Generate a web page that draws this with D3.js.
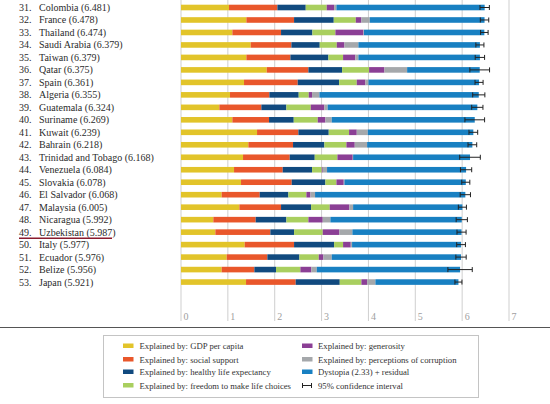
<!DOCTYPE html>
<html>
<head>
<meta charset="utf-8">
<script src="https://cdn.jsdelivr.net/npm/d3@7"></script>
<style>
  html, body { margin: 0; padding: 0; background: #fff; }
  svg { display: block; }
  text { font-family: "Liberation Serif", "DejaVu Serif", serif; }
</style>
</head>
<body>
<svg id="chart" width="550" height="404"></svg>
<script>
const ranks = [31,32,33,34,35,36,37,38,39,40,41,42,43,44,45,46,47,48,49,50,51,52,53];
const countries = ["Colombia","France","Thailand","Saudi Arabia","Taiwan","Qatar","Spain","Algeria","Guatemala","Suriname","Kuwait","Bahrain","Trinidad and Tobago","Venezuela","Slovakia","El Salvador","Malaysia","Nicaragua","Uzbekistan","Italy","Ecuador","Belize","Japan"];
const scores = [6.481,6.478,6.474,6.379,6.379,6.375,6.361,6.355,6.324,6.269,6.239,6.218,6.168,6.084,6.078,6.068,6.005,5.992,5.987,5.977,5.976,5.956,5.921];
const gdp        = [1.025,1.395,1.096,1.488,1.395,1.829,1.345,1.046,0.819,1.096,1.623,1.438,1.324,1.132,1.281,0.868,1.246,0.690,0.733,1.359,0.975,0.868,1.388];
const social     = [1.032,1.018,1.039,0.868,0.940,0.890,1.146,0.840,0.896,0.783,0.882,0.953,0.996,1.039,1.082,0.812,0.889,0.904,1.174,1.054,0.868,0.698,1.060];
const health     = [0.605,0.847,0.669,0.605,0.811,0.719,0.883,0.626,0.534,0.527,0.648,0.669,0.534,0.626,0.719,0.612,0.641,0.655,0.506,0.854,0.684,0.462,0.940];
const freedom    = [0.448,0.470,0.491,0.363,0.313,0.576,0.377,0.214,0.520,0.512,0.434,0.470,0.484,0.207,0.235,0.384,0.398,0.470,0.612,0.192,0.413,0.520,0.462];
const generosity = [0.157,0.120,0.600,0.164,0.263,0.328,0.185,0.071,0.291,0.164,0.164,0.178,0.327,0.021,0.156,0.086,0.420,0.306,0.356,0.164,0.099,0.235,0.122];
const corruption = [0.050,0.180,0.010,0.298,0.064,0.484,0.064,0.157,0.070,0.135,0.235,0.264,0.008,0.092,0.015,0.099,0.079,0.164,0.277,0.028,0.178,0.114,0.177];
const dystopia   = [3.164,2.448,2.569,2.593,2.593,1.549,2.361,3.401,3.194,3.052,2.253,2.246,2.495,2.967,2.590,3.207,2.332,2.803,2.329,2.326,2.759,3.059,1.772];
const ciHalf     = [0.10,0.09,0.08,0.086,0.10,0.21,0.086,0.13,0.12,0.21,0.093,0.093,0.22,0.12,0.086,0.11,0.086,0.12,0.097,0.093,0.11,0.26,0.075];
const xTicks = [0,1,2,3,4,5,6,7];
const highlighted = "Uzbekistan";

const seriesNames = ["Explained by: GDP per capita","Explained by: social support","Explained by: healthy life expectancy","Explained by: freedom to make life choices","Explained by: generosity","Explained by: perceptions of corruption","Dystopia (2.33) + residual"];
const seriesColors = ["#e2c42a","#e9572b","#114a7f","#a9cf5f","#8b3f95","#a5a8ab","#1880c2"];
const seriesData = [gdp, social, health, freedom, generosity, corruption, dystopia];

const svg = d3.select("#chart");
const x = d3.scaleLinear().domain([0,7]).range([181,509]);
const y = d3.scalePoint().domain(countries).range([1.26,288.3]).padding(0.5);
const barH = 5.6;

// gridlines
svg.append("g").selectAll("line").data(xTicks).join("line")
  .attr("x1", d => x(d)).attr("x2", d => x(d))
  .attr("y1", 0).attr("y2", 321)
  .attr("stroke", "#cfcfcf").attr("stroke-width", 1);

// tick labels
svg.append("g").selectAll("text").data(xTicks).join("text")
  .attr("x", d => x(d) + 2.5).attr("y", 319.5)
  .attr("font-size", 10).attr("fill", "#a0a0a0")
  .text(d => d);

// stacked data
const rows = countries.map((c, i) => {
  const vals = seriesData.map(s => s[i]);
  let acc = 0;
  const segs = vals.map((v, k) => { const s = {k, x0: acc, x1: acc + v}; acc += v; return s; });
  return {c, i, segs};
});

const gBars = svg.append("g");
rows.forEach(r => {
  gBars.selectAll(null).data(r.segs).join("rect")
    .attr("x", d => x(d.x0))
    .attr("width", d => Math.max(0, x(d.x1) - x(d.x0)))
    .attr("y", y(r.c) - barH/2)
    .attr("height", barH)
    .attr("fill", d => seriesColors[d.k]);
});

// confidence intervals
const gCI = svg.append("g").attr("stroke", "#222").attr("stroke-width", 1);
countries.forEach((c, i) => {
  const lo = x(scores[i] - ciHalf[i]), hi = x(scores[i] + ciHalf[i]), yy = y(c);
  gCI.append("line").attr("x1", lo).attr("x2", hi).attr("y1", yy).attr("y2", yy);
  gCI.append("line").attr("x1", lo).attr("x2", lo).attr("y1", yy - 2.5).attr("y2", yy + 2.5);
  gCI.append("line").attr("x1", hi).attr("x2", hi).attr("y1", yy - 2.5).attr("y2", yy + 2.5);
});

// labels
const gLab = svg.append("g").attr("font-size", 10).attr("fill", "#2b2b2b");
countries.forEach((c, i) => {
  gLab.append("text").attr("x", 19).attr("y", y(c) + 3.5).text(ranks[i] + ".");
  gLab.append("text").attr("x", 39).attr("y", y(c) + 3.5).text(c + " (" + scores[i].toFixed(3) + ")");
});
// underline highlighted
svg.append("line")
  .attr("x1", 19).attr("x2", 112)
  .attr("y1", y(highlighted) + 6.2).attr("y2", y(highlighted) + 6.2)
  .attr("stroke", "#8a1b2e").attr("stroke-width", 1.5);

// separator line
svg.append("line").attr("x1", 0).attr("x2", 550).attr("y1", 327.5).attr("y2", 327.5)
  .attr("stroke", "#555").attr("stroke-width", 1.2);

// legend
svg.append("rect").attr("x", 103.5).attr("y", 335.5).attr("width", 375).attr("height", 62)
  .attr("fill", "none").attr("stroke", "#c4c4c4").attr("stroke-width", 1);
const legRowsY = [346, 359.5, 372, 385.5];
const legItems = seriesNames.map((n, k) => ({n, color: seriesColors[k], col: k < 4 ? 0 : 1, row: k < 4 ? k : k - 4}));
const gLeg = svg.append("g").attr("font-size", 8.7).attr("fill", "#333");
legItems.forEach(it => {
  const sx = it.col === 0 ? 123 : 302;
  const tx = it.col === 0 ? 139.5 : 318;
  gLeg.append("rect").attr("x", sx).attr("y", legRowsY[it.row] - 2.5).attr("width", 10.5).attr("height", 4.5).attr("fill", it.color);
  gLeg.append("text").attr("x", tx).attr("y", legRowsY[it.row] + 3).text(it.n);
});
// CI legend
const cy = legRowsY[3];
const gCIL = gLeg.append("g").attr("stroke", "#222").attr("stroke-width", 1);
gCIL.append("line").attr("x1", 302.5).attr("x2", 311.5).attr("y1", cy).attr("y2", cy);
gCIL.append("line").attr("x1", 302.5).attr("x2", 302.5).attr("y1", cy - 2.5).attr("y2", cy + 2.5);
gCIL.append("line").attr("x1", 311.5).attr("x2", 311.5).attr("y1", cy - 2.5).attr("y2", cy + 2.5);
gLeg.append("text").attr("x", 318).attr("y", cy + 3).text("95% confidence interval");
</script>
</body>
</html>
